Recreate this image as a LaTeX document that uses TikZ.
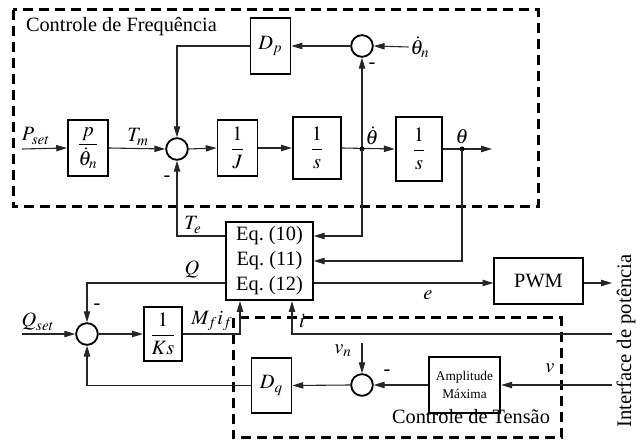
\documentclass[tikz,border=0pt]{standalone}
\usepackage{amsmath}
\usepackage{mathptmx}
\usepackage{fontspec}
\setmainfont{Liberation Serif}
\usepackage{tikz}
\usetikzlibrary{positioning,arrows.meta,calc}

\begin{document}
\begin{tikzpicture}[x=0.6pt, y=-0.6pt,
  font=\fontsize{12.2}{15}\selectfont,
  blk/.style={rectangle, draw, line width=1.1pt, inner sep=1pt,
              minimum width=24pt, minimum height=34pt, align=center},
  sum/.style={circle, draw, line width=1.1pt, minimum size=13pt, inner sep=0pt},
  ln/.style={line width=0.65pt, black!85},
  ar/.style={ln, -{Triangle[length=6.5pt, width=3.8pt]}},
  dot/.style={circle, fill, inner sep=0pt, minimum size=3pt},
  grp/.style={line width=1.8pt, dash pattern=on 6pt off 3.6pt},
  lbl/.style={inner sep=1pt},
]
\useasboundingbox (0,0) rectangle (636,441);

% grupos tracejados
\draw[grp] (13,10) rectangle (538,207);
\node[lbl, anchor=west] (freq) at (24,27) {Controle de Frequência};
\draw[grp] (233,318) rectangle (561,438);
\node[lbl] (tens) at (471,417) {Controle de Tensão};

% controle de frequencia
\node[blk] (pn)   at (88,148)    {$\dfrac{p}{\dot{\theta}_n}$};
\node[sum] (sf)   at (177,149)   {};
\node[blk] (ij)   at (237.5,148) {$\dfrac{1}{J}$};
\node[blk, minimum width=29pt, minimum height=37pt] (is1) at (317,148) {$\dfrac{1}{s}$};
\node[blk, minimum width=28pt, minimum height=38pt] (is2) at (419,149) {$\dfrac{1}{s}$};
\node[blk] (dp)   at (270.5,46)  {$D_p$};
\node[sum] (sd)   at (362,46)    {};
\node[lbl] (thn)  at (420,47)    {$\dot{\theta}_n$};
\coordinate (pin)  at (22,149);
\coordinate (bw)   at (362,149);
\coordinate (bth)  at (462,149);
\coordinate (tout) at (492,149);

% equacoes e PWM
\node[blk, minimum width=52pt, minimum height=47pt] (eq) at (269.5,261)
  {Eq.~(10)\\Eq.~(11)\\Eq.~(12)};
\node[blk, minimum width=53pt, minimum height=28pt] (pwm) at (538.5,281) {PWM};
\coordinate (out) at (612,283);

% controle de tensao
\node[sum] (sq)   at (87,334)    {};
\node[blk, minimum width=23pt, minimum height=32pt] (ks) at (163,334) {$\dfrac{1}{Ks}$};
\node[blk, minimum height=33pt] (dq) at (271.5,385.5) {$D_q$};
\node[sum] (sv)   at (362,385)   {};
\node[blk, minimum width=43pt, minimum height=34pt,
      font=\fontsize{8}{10.5}\selectfont] (amp) at (464.5,385) {Amplitude\\Máxima};
\coordinate (qin) at (22,334);
\coordinate (iin) at (612,334);
\coordinate (vin) at (612,385);
\coordinate (vnin) at (362,343);

\node[rotate=90, font=\fontsize{12.4}{15}\selectfont] (intf) at (626,341) {Interface de potência};

% ligacoes - frequencia
\draw[ar] (pin) -- (pn.west);
\draw[ar] (pn.east) -- (sf.west);
\draw[ar] (sf.east) -- (ij.west);
\draw[ar] (ij.east) -- (is1.west);
\draw[ar] (is1.east) -- (is2.west);
\draw[ar] (is2.east) -- (tout);
\draw[ar] (thn.west) -- (sd.east);
\draw[ar] (sd.west) -- (dp.east);
\draw[ar] (dp.west) -| (sf.north);
\draw[ar] (bw) -- (sd.south);
\node[dot] at (bw) {};
\node[dot] at (bth) {};
\draw[ar] (bw) |- ($(eq.east)+(0,-25)$);
\draw[ar] (bth) |- (eq.east);
\draw[ar] ($(eq.west)+(0,-25)$) -| (sf.south);

% ligacoes - tensao
\draw[ar] (eq.east|-out) -- (pwm.west|-out);
\draw[ar] (pwm.east|-out) -- (out);
\draw[ar] (eq.west|-out) -| (sq.north);
\draw[ar] (qin) -- (sq.west);
\draw[ar] (sq.east) -- (ks.west);
\draw[ar] (ks.east) -| (eq.south-|240,0);
\draw[ar] (iin) -| (eq.south-|292,0);
\draw[ar] (vin) -- (amp.east);
\draw[ar] (amp.west) -- (sv.east);
\draw[ar] (vnin) -- (sv.north);
\draw[ar] (sv.west) -- (dq.east);
\draw[ar] (dq.west) -| (sq.south);

% rotulos
\node[lbl] at (36,136)  {$P_{set}$};
\node[lbl] at (138,137) {$T_m$};
\node[lbl] at (372,136) {$\dot{\theta}$};
\node[lbl] at (462,137) {$\theta$};
\node[lbl] at (193,225) {$T_e$};
\node[lbl] at (192,270) {$Q$};
\node[lbl] at (428,295) {$e$};
\node[lbl] at (38,322)  {$Q_{set}$};
\node[lbl] at (212,321) {$M_f i_f$};
\node[lbl] at (302,321) {$i$};
\node[lbl] at (343,351) {$v_n$};
\node[lbl] at (550,368) {$v$};
\node[lbl] at (372,66)  {-};
\node[lbl] at (167,179) {-};
\node[lbl] at (97,307)  {-};
\node[lbl] at (387,373) {-};
\end{tikzpicture}
\end{document}
